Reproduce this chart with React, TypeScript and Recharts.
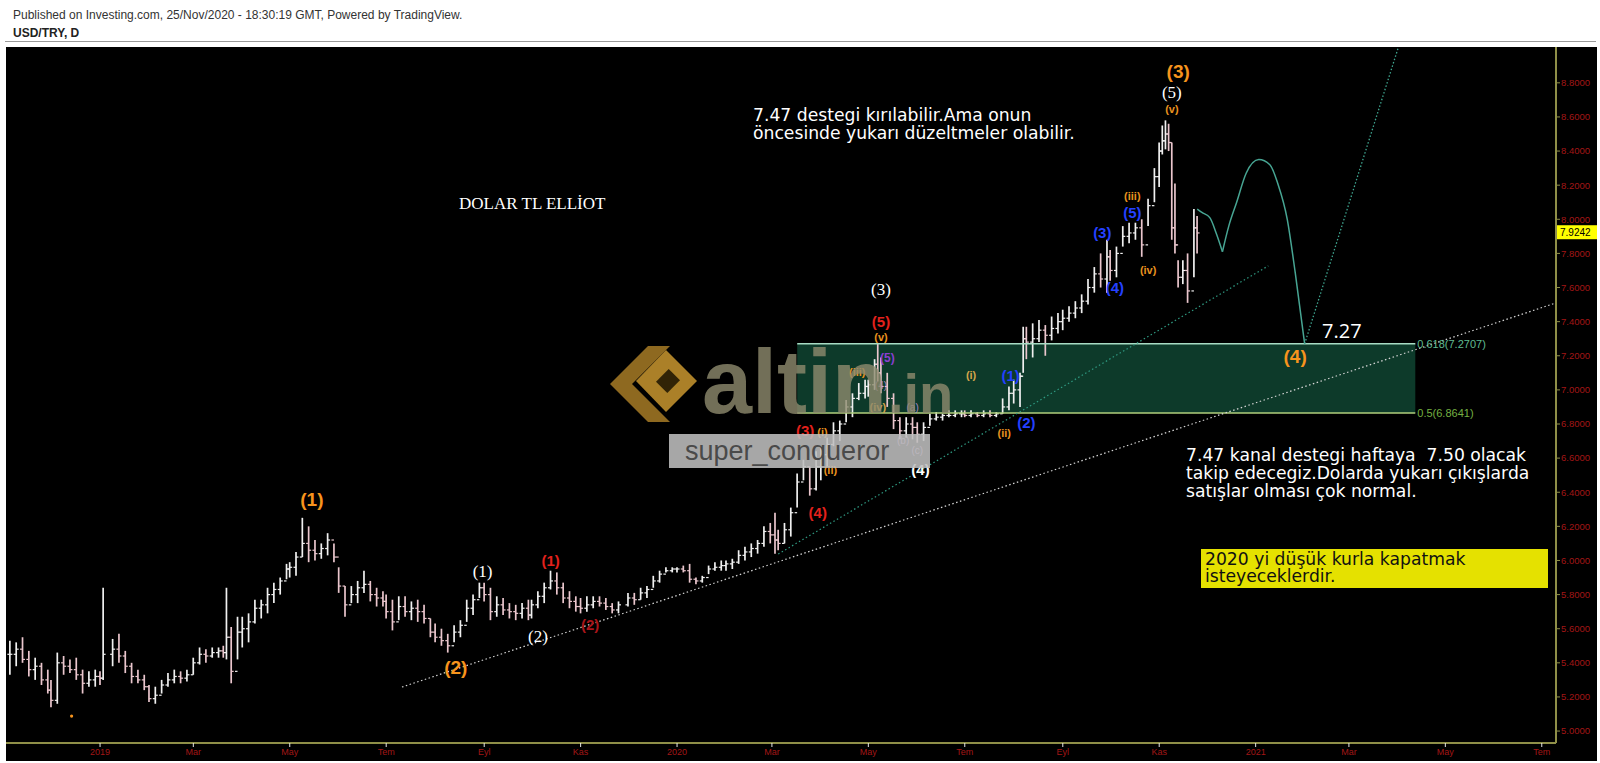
import React from 'react';
import {
  ComposedChart, Bar, Line, Scatter, XAxis, YAxis,
  ReferenceArea, ReferenceLine, ReferenceDot,
} from 'recharts';

const W = 1600;
const H = 763;

// USD/TRY daily range samples: [date, low, high, close]
const bars: [string, number, number, number][] = [
  ['2018-11-05', 5.33, 5.53, 5.45], ['2018-11-09', 5.38, 5.52, 5.48], ['2018-11-13', 5.40, 5.55, 5.42],
  ['2018-11-17', 5.32, 5.47, 5.36], ['2018-11-21', 5.30, 5.43, 5.38], ['2018-11-25', 5.27, 5.40, 5.30],
  ['2018-11-29', 5.22, 5.36, 5.24], ['2018-12-01', 5.14, 5.30, 5.18], ['2018-12-05', 5.16, 5.46, 5.40],
  ['2018-12-09', 5.33, 5.44, 5.38], ['2018-12-13', 5.34, 5.42, 5.36], ['2018-12-17', 5.30, 5.43, 5.33],
  ['2018-12-21', 5.22, 5.36, 5.28], ['2018-12-25', 5.26, 5.35, 5.30], ['2018-12-29', 5.26, 5.36, 5.32],
  ['2019-01-01', 5.27, 5.35, 5.31], ['2019-01-03', 5.30, 5.84, 5.45], ['2019-01-09', 5.38, 5.54, 5.48],
  ['2019-01-13', 5.40, 5.57, 5.44], ['2019-01-17', 5.34, 5.47, 5.38], ['2019-01-21', 5.28, 5.40, 5.32],
  ['2019-01-25', 5.28, 5.36, 5.30], ['2019-01-29', 5.24, 5.33, 5.26], ['2019-02-01', 5.17, 5.27, 5.19],
  ['2019-02-05', 5.16, 5.26, 5.21], ['2019-02-09', 5.22, 5.30, 5.27], ['2019-02-13', 5.26, 5.34, 5.30],
  ['2019-02-17', 5.28, 5.36, 5.32], ['2019-02-21', 5.28, 5.35, 5.31], ['2019-02-25', 5.29, 5.36, 5.33],
  ['2019-03-01', 5.33, 5.43, 5.40], ['2019-03-05', 5.39, 5.49, 5.45], ['2019-03-09', 5.40, 5.48, 5.44],
  ['2019-03-13', 5.43, 5.49, 5.46], ['2019-03-17', 5.43, 5.49, 5.47], ['2019-03-20', 5.43, 5.50, 5.46],
  ['2019-03-22', 5.42, 5.84, 5.55], ['2019-03-25', 5.28, 5.61, 5.35], ['2019-03-29', 5.42, 5.67, 5.58],
  ['2019-04-01', 5.49, 5.67, 5.60], ['2019-04-05', 5.52, 5.69, 5.64], ['2019-04-09', 5.63, 5.77, 5.72],
  ['2019-04-13', 5.66, 5.77, 5.74], ['2019-04-17', 5.69, 5.84, 5.80], ['2019-04-21', 5.75, 5.87, 5.83],
  ['2019-04-25', 5.80, 5.90, 5.88], ['2019-04-29', 5.89, 5.98, 5.95], ['2019-05-01', 5.90, 5.99, 5.96],
  ['2019-05-05', 5.91, 6.05, 6.02], ['2019-05-09', 6.02, 6.25, 6.10], ['2019-05-13', 5.99, 6.20, 6.06],
  ['2019-05-17', 6.00, 6.12, 6.04], ['2019-05-21', 6.01, 6.10, 6.07], ['2019-05-25', 6.03, 6.16, 6.12],
  ['2019-05-29', 5.99, 6.10, 6.02], ['2019-06-01', 5.81, 5.96, 5.85], ['2019-06-05', 5.67, 5.85, 5.74],
  ['2019-06-09', 5.75, 5.85, 5.80], ['2019-06-13', 5.75, 5.88, 5.84], ['2019-06-17', 5.81, 5.94, 5.86],
  ['2019-06-21', 5.76, 5.88, 5.80], ['2019-06-25', 5.73, 5.84, 5.78], ['2019-06-29', 5.73, 5.82, 5.76],
  ['2019-07-01', 5.66, 5.80, 5.70], ['2019-07-05', 5.59, 5.77, 5.64], ['2019-07-09', 5.65, 5.79, 5.73],
  ['2019-07-13', 5.67, 5.79, 5.70], ['2019-07-17', 5.65, 5.76, 5.72], ['2019-07-21', 5.64, 5.77, 5.70],
  ['2019-07-25', 5.63, 5.74, 5.66], ['2019-07-29', 5.55, 5.66, 5.58], ['2019-08-01', 5.52, 5.63, 5.55],
  ['2019-08-05', 5.50, 5.60, 5.53], ['2019-08-09', 5.46, 5.57, 5.50], ['2019-08-13', 5.52, 5.62, 5.58],
  ['2019-08-17', 5.55, 5.65, 5.62], ['2019-08-21', 5.64, 5.77, 5.72], ['2019-08-25', 5.68, 5.80, 5.77],
  ['2019-08-29', 5.78, 5.87, 5.84], ['2019-09-01', 5.76, 5.87, 5.80], ['2019-09-05', 5.65, 5.84, 5.70],
  ['2019-09-09', 5.67, 5.79, 5.74], ['2019-09-13', 5.68, 5.78, 5.71], ['2019-09-17', 5.66, 5.75, 5.70],
  ['2019-09-21', 5.65, 5.74, 5.69], ['2019-09-25', 5.66, 5.75, 5.72], ['2019-09-29', 5.65, 5.77, 5.68],
  ['2019-10-01', 5.66, 5.77, 5.74], ['2019-10-05', 5.72, 5.82, 5.79], ['2019-10-09', 5.75, 5.87, 5.84],
  ['2019-10-13', 5.83, 5.94, 5.88], ['2019-10-17', 5.80, 5.93, 5.84], ['2019-10-21', 5.75, 5.87, 5.78],
  ['2019-10-25', 5.72, 5.82, 5.76], ['2019-10-29', 5.70, 5.79, 5.73], ['2019-11-01', 5.69, 5.78, 5.72],
  ['2019-11-05', 5.70, 5.79, 5.74], ['2019-11-09', 5.72, 5.79, 5.76], ['2019-11-13', 5.73, 5.79, 5.75],
  ['2019-11-17', 5.71, 5.78, 5.73], ['2019-11-21', 5.69, 5.75, 5.71], ['2019-11-25', 5.69, 5.76, 5.74],
  ['2019-12-01', 5.73, 5.81, 5.78], ['2019-12-05', 5.74, 5.81, 5.77], ['2019-12-09', 5.77, 5.84, 5.81],
  ['2019-12-13', 5.78, 5.85, 5.83], ['2019-12-17', 5.84, 5.91, 5.88], ['2019-12-21', 5.87, 5.94, 5.92],
  ['2019-12-25', 5.93, 5.96, 5.94], ['2019-12-29', 5.93, 5.96, 5.95], ['2020-01-01', 5.93, 5.96, 5.95],
  ['2020-01-05', 5.93, 5.97, 5.94], ['2020-01-09', 5.87, 5.98, 5.89], ['2020-01-13', 5.86, 5.90, 5.88],
  ['2020-01-17', 5.87, 5.91, 5.90], ['2020-01-21', 5.92, 5.97, 5.95], ['2020-01-25', 5.94, 5.99, 5.96],
  ['2020-01-29', 5.94, 6.00, 5.97], ['2020-02-01', 5.94, 6.00, 5.98], ['2020-02-05', 5.95, 6.01, 5.99],
  ['2020-02-09', 5.98, 6.06, 6.03], ['2020-02-13', 6.00, 6.08, 6.05], ['2020-02-17', 6.02, 6.10, 6.07],
  ['2020-02-21', 6.04, 6.12, 6.10], ['2020-02-25', 6.08, 6.20, 6.17], ['2020-02-29', 6.10, 6.22, 6.15],
  ['2020-03-03', 6.04, 6.28, 6.12], ['2020-03-05', 6.06, 6.18, 6.10], ['2020-03-09', 6.10, 6.22, 6.18],
  ['2020-03-13', 6.14, 6.31, 6.28], ['2020-03-17', 6.31, 6.51, 6.46], ['2020-03-21', 6.47, 6.59, 6.55],
  ['2020-03-25', 6.38, 6.55, 6.42], ['2020-03-29', 6.41, 6.64, 6.55], ['2020-04-01', 6.47, 6.67, 6.62],
  ['2020-04-05', 6.55, 6.72, 6.68], ['2020-04-09', 6.67, 6.81, 6.76], ['2020-04-13', 6.70, 6.82, 6.80],
  ['2020-04-17', 6.81, 6.94, 6.90], ['2020-04-21', 6.84, 6.98, 6.95], ['2020-04-25', 6.94, 7.04, 6.98],
  ['2020-04-29', 6.95, 7.06, 7.02], ['2020-05-01', 6.96, 7.06, 7.03], ['2020-05-05', 7.00, 7.18, 7.15],
  ['2020-05-07', 7.05, 7.27, 7.10], ['2020-05-09', 6.98, 7.19, 7.02], ['2020-05-13', 6.90, 7.10, 6.95],
  ['2020-05-17', 6.77, 6.98, 6.82], ['2020-05-21', 6.71, 6.84, 6.76], ['2020-05-25', 6.72, 6.84, 6.80],
  ['2020-05-29', 6.71, 6.84, 6.78], ['2020-06-01', 6.69, 6.81, 6.74], ['2020-06-05', 6.70, 6.81, 6.78],
  ['2020-06-09', 6.79, 6.86, 6.83], ['2020-06-13', 6.82, 6.87, 6.84], ['2020-06-17', 6.82, 6.86, 6.85],
  ['2020-06-21', 6.84, 6.88, 6.85], ['2020-06-25', 6.84, 6.88, 6.86], ['2020-06-29', 6.84, 6.88, 6.86],
  ['2020-07-01', 6.84, 6.88, 6.85], ['2020-07-05', 6.84, 6.88, 6.86], ['2020-07-09', 6.84, 6.87, 6.85],
  ['2020-07-13', 6.84, 6.88, 6.86], ['2020-07-17', 6.84, 6.88, 6.85], ['2020-07-21', 6.84, 6.87, 6.86],
  ['2020-07-25', 6.86, 6.95, 6.90], ['2020-07-29', 6.88, 7.02, 6.98], ['2020-08-01', 6.92, 7.06, 7.00],
  ['2020-08-05', 6.90, 7.10, 7.08], ['2020-08-07', 7.10, 7.37, 7.30], ['2020-08-09', 7.18, 7.37, 7.28],
  ['2020-08-13', 7.19, 7.39, 7.30], ['2020-08-17', 7.28, 7.41, 7.35], ['2020-08-21', 7.20, 7.38, 7.32],
  ['2020-08-25', 7.29, 7.43, 7.36], ['2020-08-29', 7.33, 7.45, 7.40], ['2020-09-01', 7.35, 7.47, 7.42],
  ['2020-09-05', 7.40, 7.49, 7.45], ['2020-09-09', 7.42, 7.52, 7.48], ['2020-09-13', 7.45, 7.56, 7.52],
  ['2020-09-17', 7.50, 7.65, 7.60], ['2020-09-21', 7.57, 7.72, 7.68], ['2020-09-25', 7.60, 7.80, 7.65],
  ['2020-09-29', 7.57, 7.88, 7.78], ['2020-10-01', 7.64, 7.82, 7.70], ['2020-10-05', 7.66, 7.84, 7.80],
  ['2020-10-09', 7.84, 7.96, 7.90], ['2020-10-13', 7.86, 7.98, 7.92], ['2020-10-17', 7.88, 7.98, 7.95],
  ['2020-10-21', 7.78, 8.00, 7.85], ['2020-10-25', 7.96, 8.12, 8.08], ['2020-10-29', 8.10, 8.30, 8.25],
  ['2020-11-01', 8.19, 8.45, 8.40], ['2020-11-03', 8.38, 8.55, 8.46], ['2020-11-05', 8.41, 8.58, 8.50],
  ['2020-11-07', 8.40, 8.56, 8.45], ['2020-11-09', 7.88, 8.45, 7.95], ['2020-11-11', 7.80, 8.21, 7.85],
  ['2020-11-13', 7.60, 7.76, 7.66], ['2020-11-16', 7.62, 7.76, 7.70], ['2020-11-19', 7.51, 7.80, 7.58],
  ['2020-11-23', 7.66, 8.06, 7.95], ['2020-11-25', 7.80, 8.02, 7.92],
];

const lastPrice = 7.9242;

const priceTicks = [5.0, 5.2, 5.4, 5.6, 5.8, 6.0, 6.2, 6.4, 6.6, 6.8, 7.0, 7.2, 7.4, 7.6, 7.8, 8.0, 8.2, 8.4, 8.6, 8.8];
const monthTicks = [
  '2019-01-01', '2019-03-01', '2019-05-01', '2019-07-01', '2019-09-01', '2019-11-01',
  '2020-01-01', '2020-03-01', '2020-05-01', '2020-07-01', '2020-09-01', '2020-11-01',
  '2021-01-01', '2021-03-01', '2021-05-01', '2021-07-01',
];
const monthLabels = ['2019', 'Mar', 'May', 'Tem', 'Eyl', 'Kas', '2020', 'Mar', 'May', 'Tem', 'Eyl', 'Kas', '2021', 'Mar', 'May', 'Tem'];

// projected path after the last bar
const projectionDrop: [string, number][] = [
  ['2020-11-25', 8.06], ['2020-11-28', 8.04], ['2020-12-03', 8.01], ['2020-12-07', 7.92], ['2020-12-11', 7.81],
];
const projectionArc: [string, number][] = [
  ['2020-12-11', 7.81], ['2020-12-15', 7.96], ['2020-12-20', 8.10], ['2020-12-26', 8.27], ['2021-01-03', 8.35],
  ['2021-01-10', 8.32], ['2021-01-15', 8.21], ['2021-01-21', 8.00], ['2021-01-26', 7.69], ['2021-02-01', 7.27],
];
const projectionRise: [string, number][] = [['2021-02-01', 7.27], ['2021-04-01', 9.0]];

const longTrend: [string, number][] = [['2019-07-11', 5.258], ['2021-07-10', 7.51]];
const channelTrend: [string, number][] = [['2020-03-05', 6.038], ['2021-01-09', 7.727]];

const fibStart = '2020-03-17';
const fibEnd = '2021-04-12';
const fibLevels: [string, number, string][] = [
  ['0.618', 7.2707, '#5fbb92'],
  ['0.5', 6.8641, '#74b042'],
];

// wave counts: [date, price, text, style]
const waveLabels: [string, number, string, string][] = [
  ['2019-05-15', 6.36, '(1)', 'major'], ['2019-08-14', 5.37, '(2)', 'major'],
  ['2020-11-13', 8.865, '(3)', 'major'], ['2021-01-26', 7.194, '(4)', 'major'],
  ['2019-08-31', 5.933, '(1)', 'minor'], ['2019-10-05', 5.557, '(2)', 'minor'],
  ['2020-05-09', 7.587, '(3)', 'minor'], ['2020-06-03', 6.531, '(4)', 'minorSans'],
  ['2020-11-09', 8.742, '(5)', 'minor'],
  ['2019-10-13', 5.997, '(1)', 'red'], ['2019-11-07', 5.622, '(2)', 'redDim'],
  ['2020-03-22', 6.760, '(3)', 'red'], ['2020-03-30', 6.279, '(4)', 'red'], ['2020-05-09', 7.399, '(5)', 'red'],
  ['2020-04-02', 6.754, '(i)', 'roman'], ['2020-04-07', 6.531, '(ii)', 'roman'],
  ['2020-04-24', 7.106, '(iii)', 'roman'], ['2020-05-07', 6.900, '(iv)', 'romanPale'],
  ['2020-05-09', 7.311, '(v)', 'roman'],
  ['2020-07-05', 7.088, '(i)', 'romanPale'], ['2020-07-26', 6.748, '(ii)', 'roman'],
  ['2020-10-15', 8.138, '(iii)', 'roman'], ['2020-10-25', 7.704, '(iv)', 'roman'],
  ['2020-11-09', 8.648, '(v)', 'roman'],
  ['2020-07-30', 7.082, '(1)', 'blue'], ['2020-08-09', 6.806, '(2)', 'blue'],
  ['2020-09-26', 7.921, '(3)', 'blue'], ['2020-10-04', 7.598, '(4)', 'blue'], ['2020-10-15', 8.038, '(5)', 'blue'],
  ['2020-05-13', 7.188, '(5)', 'violet'], ['2020-05-09', 7.023, '(4)', 'lilac'],
  ['2020-05-29', 6.894, '(a)', 'lilac'], ['2020-05-23', 6.701, '(b)', 'lilac'], ['2020-06-01', 6.642, '(c)', 'lilac'],
];

const labelStyles: Record<string, React.SVGProps<SVGTextElement>> = {
  major: { fill: '#f7941d', fontSize: 19, fontWeight: 700, fontFamily: 'Liberation Sans' },
  minor: { fill: '#ffffff', fontSize: 17, fontFamily: 'Liberation Serif' },
  minorSans: { fill: '#ffffff', fontSize: 15, fontWeight: 700, fontFamily: 'Liberation Sans' },
  red: { fill: '#e3211c', fontSize: 15, fontWeight: 700, fontFamily: 'Liberation Sans' },
  redDim: { fill: '#a8151a', fontSize: 15, fontWeight: 700, fontFamily: 'Liberation Sans' },
  roman: { fill: '#e8921f', fontSize: 11, fontWeight: 700, fontFamily: 'Liberation Sans' },
  romanPale: { fill: '#d2a64a', fontSize: 11, fontWeight: 700, fontFamily: 'Liberation Sans' },
  blue: { fill: '#2440ff', fontSize: 15, fontWeight: 700, fontFamily: 'Liberation Sans' },
  violet: { fill: '#8a3fd0', fontSize: 12, fontWeight: 700, fontFamily: 'Liberation Sans' },
  lilac: { fill: '#d49ce4', fontSize: 10, fontFamily: 'Liberation Sans', fillOpacity: 0.8 },
};

const DAY0 = Date.UTC(2019, 0, 1);
const toDay = (iso: string) => (Date.parse(iso + 'T00:00:00Z') - DAY0) / 86400000;
const toRows = (pts: [string, number][]) => pts.map(([d, p]) => ({ day: toDay(d), price: p }));

const priceRows = bars.map(([date, low, high, close], i) => ({
  day: toDay(date),
  hl: [low, high],
  low,
  high,
  close,
  open: i > 0 ? bars[i - 1][3] : close,
}));

const waveRows = waveLabels.map(([d, p, text, style]) => ({ day: toDay(d), price: p, text, style }));
const fibRows = fibLevels.map(([name, p, color]) => ({ day: toDay(fibEnd), price: p, text: `${name}(${p.toFixed(4)})`, color }));

const AXIS = '#8f8f48';
const TICK_RED = '#a31616';

function PriceBar(props: any) {
  const { x, y, width, height, payload } = props;
  if (x == null || y == null || !payload) return null;
  const top = Math.min(y, y + height);
  const h = Math.abs(height);
  const cx = x + width / 2;
  const span = payload.high - payload.low || 1;
  const py = (v: number) => top + ((payload.high - v) / span) * h;
  const color = payload.close >= payload.open ? '#f0f0f0' : '#eac6cd';
  return (
    <g stroke={color}>
      <line x1={cx} x2={cx} y1={top} y2={top + h} strokeWidth={1.7} />
      <line x1={cx - 2.5} x2={cx} y1={py(payload.open)} y2={py(payload.open)} strokeWidth={1.2} />
      <line x1={cx} x2={cx + 2.5} y1={py(payload.close)} y2={py(payload.close)} strokeWidth={1.2} />
    </g>
  );
}

function WaveLabel(props: any) {
  const { cx, cy, payload } = props;
  if (cx == null || !payload) return null;
  return (
    <text x={cx} y={cy} textAnchor="middle" dominantBaseline="central" {...labelStyles[payload.style]}>
      {payload.text}
    </text>
  );
}

function FibLabel(props: any) {
  const { cx, cy, payload } = props;
  if (cx == null || !payload) return null;
  return (
    <text x={cx + 2} y={cy} dominantBaseline="central" fill={payload.color} fontSize={11} fontFamily="Liberation Sans">
      {payload.text}
    </text>
  );
}

function PriceTag({ viewBox }: any) {
  if (!viewBox) return null;
  const x = viewBox.x + viewBox.width + 1;
  return (
    <g>
      <rect x={x} y={viewBox.y - 7} width={40} height={14} fill="#ffff00" />
      <text x={x + 3} y={viewBox.y} dominantBaseline="central" fontSize={10} fontFamily="Liberation Sans" fill="#000">
        {lastPrice.toFixed(4)}
      </text>
    </g>
  );
}

const note: React.CSSProperties = {
  position: 'absolute',
  color: '#fff',
  fontFamily: '"DejaVu Sans", sans-serif',
  fontSize: 17.2,
  lineHeight: '18px',
  whiteSpace: 'pre',
};

export default function App() {
  const tickDays = monthTicks.map(toDay);
  const fmtMonth = (v: number) => monthLabels[tickDays.indexOf(v)] ?? '';

  return (
    <div style={{ position: 'absolute', left: 0, top: 0, width: W, height: H, background: '#fff', overflow: 'hidden' }}>
      <div style={{ position: 'absolute', left: 13, top: 8, font: '12px "Liberation Sans", Arial', lineHeight: '14px', color: '#333' }}>
        Published on Investing.com, 25/Nov/2020 - 18:30:19 GMT, Powered by TradingView.
      </div>
      <div style={{ position: 'absolute', left: 13, top: 26, font: 'bold 12px "Liberation Sans", Arial', lineHeight: '14px', color: '#222' }}>
        USD/TRY, D
      </div>
      <div style={{ position: 'absolute', left: 5, top: 41, width: 1591, height: 1, background: '#9a9a9a' }} />
      <div style={{ position: 'absolute', left: 6, top: 47, width: 1591, height: 714, background: '#000' }} />

      <div style={{ position: 'absolute', left: 0, top: 0 }}>
        <ComposedChart width={W} height={H} data={priceRows} margin={{ top: 47, right: 0, bottom: 0, left: 6 }}>
          <XAxis
            type="number"
            dataKey="day"
            domain={[-59.5, 921]}
            allowDataOverflow
            ticks={tickDays}
            interval={0}
            tickFormatter={fmtMonth}
            height={20}
            tickSize={4}
            tickMargin={2}
            axisLine={{ stroke: AXIS, strokeWidth: 2 }}
            tickLine={{ stroke: '#e6e6e6' }}
            tick={{ fill: TICK_RED, fontSize: 9, fontFamily: 'Liberation Sans' }}
          />
          <YAxis
            orientation="right"
            type="number"
            domain={[4.93, 9.01]}
            allowDataOverflow
            ticks={priceTicks}
            interval={0}
            tickFormatter={(v: number) => v.toFixed(4)}
            width={44}
            tickSize={4}
            tickMargin={1}
            axisLine={{ stroke: AXIS, strokeWidth: 2 }}
            tickLine={{ stroke: AXIS }}
            tick={{ fill: TICK_RED, fontSize: 9.5, fontFamily: 'Liberation Sans' }}
          />

          <ReferenceArea
            x1={toDay(fibStart)} x2={toDay(fibEnd)}
            y1={fibLevels[1][1]} y2={fibLevels[0][1]}
            fill="#1f8a63" fillOpacity={0.42} stroke="none"
          />
          <ReferenceLine
            segment={[{ x: toDay(fibStart), y: fibLevels[0][1] }, { x: toDay(fibEnd), y: fibLevels[0][1] }]}
            stroke="#a8dcc4" strokeWidth={1.5}
          />
          <ReferenceLine
            segment={[{ x: toDay(fibStart), y: fibLevels[1][1] }, { x: toDay(fibEnd), y: fibLevels[1][1] }]}
            stroke="#b0cf7c" strokeWidth={1.5}
          />

          <ReferenceLine
            segment={longTrend.map(([d, p]) => ({ x: toDay(d), y: p }))}
            stroke="#d6d6d6" strokeWidth={1.2} strokeDasharray="1.5 2.5"
          />
          <ReferenceLine
            segment={channelTrend.map(([d, p]) => ({ x: toDay(d), y: p }))}
            stroke="#2f9a82" strokeWidth={1.2} strokeDasharray="1.5 2.5"
          />
          <ReferenceLine
            segment={projectionRise.map(([d, p]) => ({ x: toDay(d), y: p }))}
            stroke="#3fa690" strokeWidth={1.3} strokeDasharray="1.5 2"
          />
          <ReferenceLine y={lastPrice} stroke="none" label={PriceTag} />
          <ReferenceDot x={toDay('2018-12-14')} y={5.088} r={1.6} fill="#f7941d" stroke="none" />

          <Bar dataKey="hl" barSize={2} shape={PriceBar} isAnimationActive={false} />

          <Line data={toRows(projectionDrop)} dataKey="price" type="monotone" stroke="#47a593" strokeWidth={1.5} dot={false} isAnimationActive={false} />
          <Line data={toRows(projectionArc)} dataKey="price" type="monotone" stroke="#47a593" strokeWidth={1.5} dot={false} isAnimationActive={false} />

          <Scatter data={fibRows} dataKey="price" shape={FibLabel} isAnimationActive={false} />
          <Scatter data={waveRows} dataKey="price" shape={WaveLabel} isAnimationActive={false} />
        </ComposedChart>
      </div>

      <div style={{ ...note, left: 459, top: 195, fontFamily: '"Liberation Serif", serif', fontSize: 17 }}>DOLAR TL ELLİOT</div>
      <div style={{ ...note, left: 753, top: 106 }}>{'7.47 destegi kırılabilir.Ama onun\nöncesinde yukarı düzeltmeler olabilir.'}</div>
      <div style={{ ...note, left: 1186, top: 446 }}>
        {'7.47 kanal destegi haftaya  7.50 olacak\ntakip edecegiz.Dolarda yukarı çıkışlarda\nsatışlar olması çok normal.'}
      </div>
      <div style={{ ...note, left: 1201, top: 549, width: 347, height: 39, background: '#e5e100', color: '#111', lineHeight: '17px', padding: '2px 0 0 4px', boxSizing: 'border-box' }}>
        {'2020 yi düşük kurla kapatmak\nisteyeceklerdir.'}
      </div>
      <div style={{ ...note, left: 1322, top: 319, fontSize: 20, lineHeight: '24px', fontFamily: '"Open Sans", sans-serif' }}>7.27</div>

      <svg width={W} height={H} style={{ position: 'absolute', left: 0, top: 0, pointerEvents: 'none' }}>
        <g opacity={0.85}>
          <polygon points="610,384 648,346 670,346 632,384 670,422 648,422" fill="#a77c26" />
          <polygon points="666,350 697,381 666,412 636,381" fill="#c9972f" />
          <polygon points="660,372 676,372 676,390 660,390" fill="#3a2a08" transform="rotate(45 668 381)" />
        </g>
        <text x={702} y={413} fontSize={90} fontWeight={700} fontFamily="Liberation Sans" fill="#8e8b6e" fillOpacity={0.8}>altin</text>
        <text x={888} y={413} fontSize={56} fontWeight={700} fontFamily="Liberation Sans" fill="#8e8b6e" fillOpacity={0.8}>.in</text>
      </svg>

      <div style={{ position: 'absolute', left: 669, top: 434, width: 261, height: 34, background: 'rgba(190,190,190,0.88)' }}>
        <div style={{ position: 'absolute', left: 16, top: 0, font: '27px "Liberation Sans", Arial', lineHeight: '34px', color: '#4a4a4a' }}>
          super_conqueror
        </div>
      </div>
    </div>
  );
}
